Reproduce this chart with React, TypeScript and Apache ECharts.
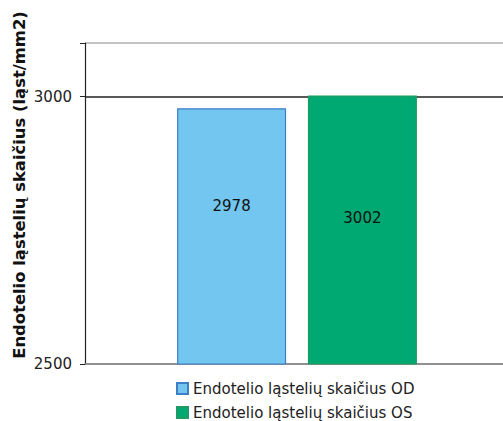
import React, { useEffect, useRef } from "react";
import * as echarts from "echarts";

const categories = ["Endotelio ląstelių skaičius"];
const seriesNames = ["Endotelio ląstelių skaičius OD", "Endotelio ląstelių skaičius OS"];
const valuesOD = [2978];
const valuesOS = [3002];
const yAxisTitle = "Endotelio ląstelių skaičius (ląst/mm2)";

export default function App() {
  const ref = useRef<HTMLDivElement>(null);

  useEffect(() => {
    if (!ref.current) return;
    const chart = echarts.init(ref.current, null, { renderer: "svg" });
    const font = "'DejaVu Sans', 'Noto Sans', sans-serif";
    const legendText = { fontSize: 15, color: "#222", fontFamily: font };
    chart.setOption({
      animation: false,
      backgroundColor: "#ffffff",
      textStyle: { fontFamily: font },
      // plot area runs past the right edge of the page
      grid: { left: 85, top: 43, width: 424, height: 321, containLabel: false },
      graphic: [
        {
          type: "text",
          x: 19,
          y: 185,
          rotation: Math.PI / 2,
          style: {
            text: yAxisTitle,
            fontSize: 16.4,
            fontWeight: "bold",
            fill: "#111",
            fontFamily: font,
            textAlign: "center",
            textVerticalAlign: "middle",
          },
        },
      ],
      legend: [
        {
          left: 171,
          top: 376,
          itemWidth: 11,
          itemHeight: 11,
          icon: "rect",
          textStyle: legendText,
          data: [seriesNames[0]],
        },
        {
          left: 171,
          top: 400,
          itemWidth: 11,
          itemHeight: 11,
          icon: "rect",
          textStyle: legendText,
          data: [seriesNames[1]],
        },
      ],
      xAxis: {
        type: "category",
        data: categories,
        axisLine: { show: true, lineStyle: { color: "#8a8a8a", width: 1.5 } },
        axisTick: { show: false },
        axisLabel: { show: false },
      },
      yAxis: {
        type: "value",
        min: 2500,
        max: 3100,
        interval: 500,
        axisLine: { show: true, lineStyle: { color: "#222", width: 1.2 } },
        axisTick: { show: true, length: 5, lineStyle: { color: "#222" } },
        axisLabel: {
          fontSize: 15,
          color: "#222",
          margin: 13,
          formatter: (v: number) => (v % 500 === 0 ? String(v) : ""),
        },
        splitLine: {
          show: true,
          lineStyle: { color: ["#8a8a8a", "#222222", "#b0b0b0"], width: 1.5 },
        },
      },
      series: [
        {
          name: seriesNames[0],
          type: "bar",
          data: valuesOD,
          barWidth: 109,
          barGap: "20%",
          itemStyle: { color: "#73c6ef", borderColor: "#3f7fc8", borderWidth: 1.2 },
          label: {
            show: true,
            position: "inside",
            offset: [0, -30],
            fontSize: 15,
            color: "#111",
            fontFamily: font,
          },
        },
        {
          name: seriesNames[1],
          type: "bar",
          data: valuesOS,
          barWidth: 109,
          barGap: "20%",
          itemStyle: { color: "#00a872", borderColor: "#1f9a62", borderWidth: 1.2 },
          label: {
            show: true,
            position: "inside",
            offset: [0, -12],
            fontSize: 15,
            color: "#111",
            fontFamily: font,
          },
        },
      ],
    });
    return () => chart.dispose();
  }, []);

  return (
    <div
      ref={ref}
      style={{ position: "fixed", left: 0, top: 0, width: 515, height: 421 }}
    />
  );
}
